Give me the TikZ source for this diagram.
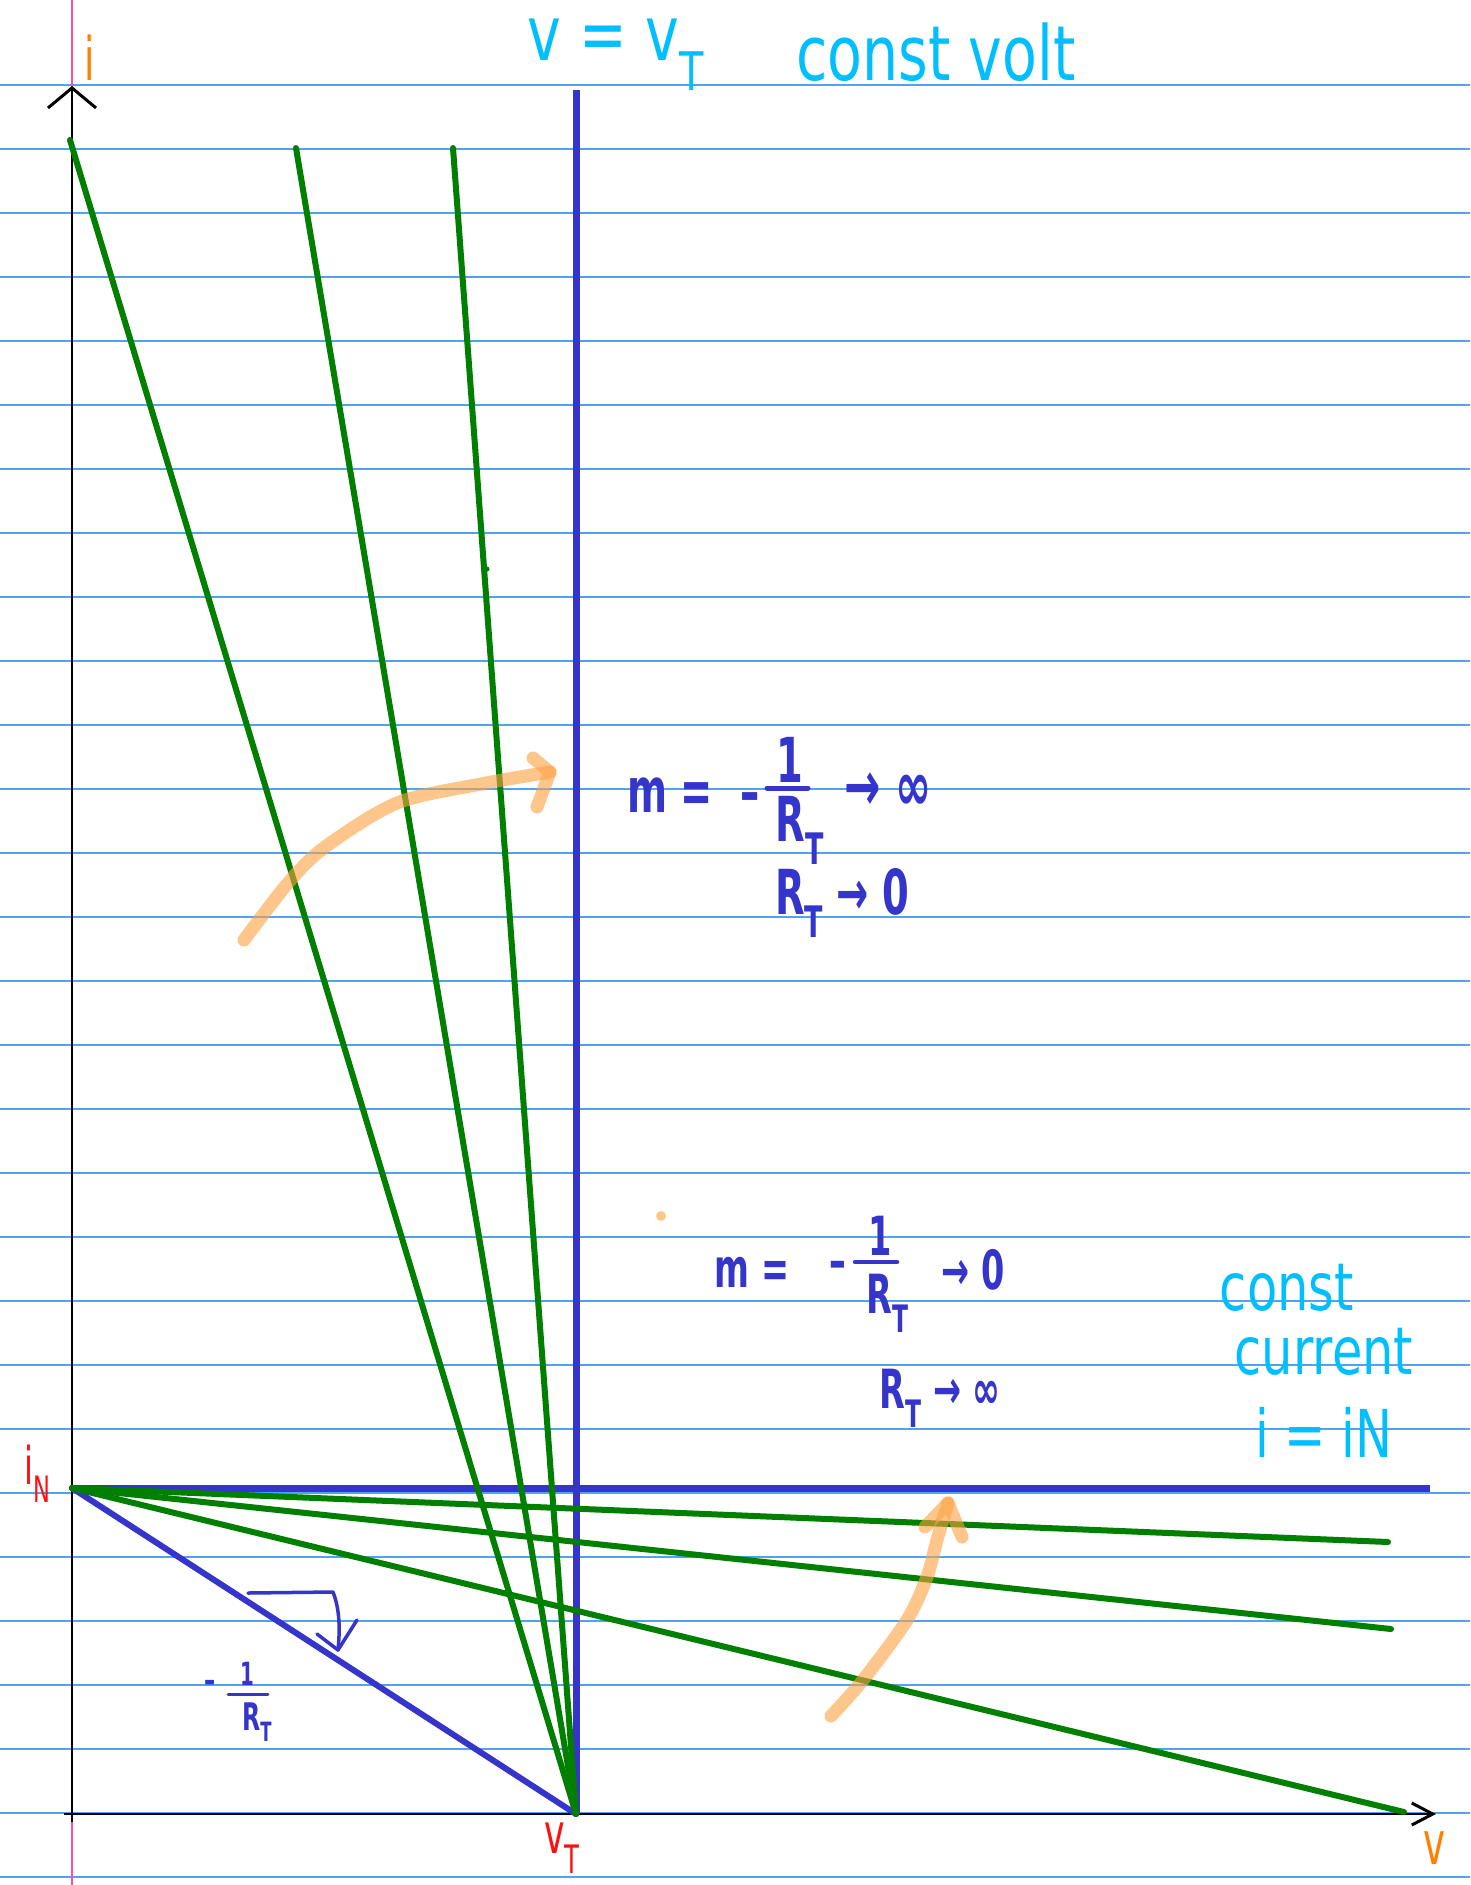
\documentclass[tikz,border=0pt]{standalone}
\usepackage{fontspec}
\setmainfont{DejaVu Sans}
\usepackage{graphicx}
\usetikzlibrary{arrows.meta}
\definecolor{ruleblue}{HTML}{4DA3F5}
\definecolor{pinkm}{HTML}{FF4FA3}
\definecolor{grn}{HTML}{007F00}
\definecolor{blu}{HTML}{3535CC}
\definecolor{cyn}{HTML}{00BFFF}
\definecolor{org}{HTML}{FF8000}
\definecolor{orgl}{HTML}{FFA040}
\definecolor{redl}{HTML}{FF1010}
\newcommand\cnd[1]{\scalebox{0.62}[1]{#1}}
\newcommand\cndw[1]{\scalebox{0.75}[1]{#1}}
\begin{document}
\begin{tikzpicture}[x=1pt,y=-1pt,
  ruleline/.style={ruleblue, line width=2pt},
  grnline/.style={grn, line width=6pt},
  bluline/.style={blu, line width=7pt},
  axisline/.style={black, line width=2.5pt},
  hl/.style={orgl, line width=13pt, line cap=round, line join=round, draw opacity=0.6},
  btxt/.style={text=blu, inner sep=0pt, font=\fontsize{62}{62}\selectfont\bfseries},
  bstxt/.style={text=blu, inner sep=0pt, font=\fontsize{54}{54}\selectfont\bfseries},
  ctxt/.style={text=cyn, inner sep=0pt, font=\fontsize{76}{76}\selectfont},
  cctxt/.style={text=cyn, inner sep=0pt, font=\fontsize{66}{66}\selectfont},
  ltxt/.style={inner sep=0pt, font=\fontsize{60}{60}\selectfont},
]
\fill[white] (0,0) rectangle (1470,1885);
\path[use as bounding box] (0,0) rectangle (1470,1885);
% ruled paper
\foreach \k in {0,...,28} \draw[ruleline] (0,{85+64*\k}) -- (1470,{85+64*\k});
\draw[pinkm, line width=1.5pt] (72,0) -- (72,1885);

% key points
\coordinate (O) at (72,1814);
\coordinate (itop) at (72,86);
\coordinate (vend) at (1436,1814);
\coordinate (VT) at (576,1814);
\coordinate (IN) at (72,1488);
\coordinate (VTtop) at (576,90);
\coordinate (INend) at (1430,1488);
\coordinate (g1) at (70,140);
\coordinate (g2) at (296,148);
\coordinate (g3) at (453,148);
\coordinate (h1) at (1388,1542);
\coordinate (h2) at (1391,1629);
\coordinate (h3) at (1404,1812);

% axes
\draw[axisline, -{Straight Barb[length=20pt,width=48pt,line width=3pt]}] (72,1822) -- (itop);
\draw[axisline, -{Straight Barb[length=21pt,width=22pt,line width=3pt]}] (64,1814) -- (vend);

% blue lines
\draw[bluline] (VTtop) -- (VT);
\draw[bluline] (IN) -- (INend);
\draw[blu, line width=6pt] (IN) -- (VT);

% green load lines
\foreach \p in {g1,g2,g3} \draw[grnline, line cap=round] (VT) -- (\p);
\foreach \p in {h1,h2,h3} \draw[grnline, line cap=round] (IN) -- (\p);
\fill[grn] (487,569) circle (2.5);

% orange highlight arrows
\draw[hl] plot[smooth] coordinates {(244,940) (288,883) (325,847) (397,803) (481,784) (550,772)};
\draw[hl] (533,758) -- (550,772) -- (537,807);
\draw[hl] plot[smooth] coordinates {(831,1716) (863,1680) (907,1620) (927,1577) (937,1540) (948,1503)};
\draw[hl] (925,1527) -- (948,1503) -- (962,1537);
\fill[orgl, opacity=0.6] (661,1216) circle (5);

% small blue slope arrow
\draw[blu, line width=3.5pt, line cap=round, line join=round] (248,1593) -- (333,1592) .. controls (340,1610) and (340,1630) .. (338,1650);
\draw[blu, line width=3.5pt, line cap=round, line join=round] (317,1634) -- (338,1650) -- (357,1620);

% axis labels
\node[ltxt, text=org] (lbli) at (90,58) {\cnd{i}};
\node[ltxt, text=org] (lblv) at (1434,1848) {\cnd{v}};
\node[inner sep=0pt, text=redl, font=\fontsize{52}{52}\selectfont] (lblin) at (38,1474) {\cnd{i\textsubscript{N}}};
\node[inner sep=0pt, text=redl, font=\fontsize{56}{56}\selectfont] (lblvt) at (562,1848) {\cnd{v\textsubscript{T}}};

% title
\node[ctxt] (title1) at (616,55) {\cndw{v = v\textsubscript{T}}};
\node[ctxt] (title2) at (936,52) {\cndw{const volt}};

% small -1/R_T
\node[inner sep=0pt, text=blu, font=\fontsize{36}{36}\selectfont\bfseries] (sm) at (210,1686) {\cnd{–}};
\node[inner sep=0pt, text=blu, font=\fontsize{32}{32}\selectfont\bfseries] (s1) at (247,1674) {\cnd{1}};
\draw[blu, line width=3pt, line cap=round] (228,1694) -- (268,1694);
\node[inner sep=0pt, text=blu, font=\fontsize{38}{38}\selectfont\bfseries] (sR) at (257,1722) {\cnd{R\textsubscript{T}}};

% upper block
\node[btxt] (m1) at (670,795) {\cnd{m =}};
\node[btxt] (m1minus) at (750,803) {\cnd{–}};
\node[btxt] (m1one) at (790,760) {\cnd{1}};
\draw[blu, line width=5pt, line cap=round] (767,788) -- (808,788);
\node[btxt] (m1R) at (800,830) {\cnd{R\textsubscript{T}}};
\node[btxt, font=\fontsize{70}{70}\selectfont\bfseries] (m1arr) at (888,792) {\cnd{→ ∞}};
\node[btxt] (r1) at (842,903) {\cnd{R\textsubscript{T} → 0}};

% lower block
\node[bstxt] (m2) at (752,1272) {\cnd{m =}};
\node[bstxt] (m2minus) at (838,1270) {\cnd{–}};
\node[bstxt] (m2one) at (880,1236) {\cnd{1}};
\draw[blu, line width=4.5pt, line cap=round] (855,1262) -- (897,1262);
\node[bstxt] (m2R) at (888,1303) {\cnd{R\textsubscript{T}}};
\node[bstxt] (m2arr) at (973,1270) {\cnd{→ 0}};
\node[bstxt] (r2) at (940,1398) {\cnd{R\textsubscript{T} → ∞}};

% const current
\node[cctxt] (cc1) at (1287,1288) {\cndw{const}};
\node[cctxt] (cc2) at (1324,1352) {\cndw{current}};
\node[cctxt] (cc3) at (1324,1432) {\cndw{i = iN}};
\end{tikzpicture}
\end{document}
